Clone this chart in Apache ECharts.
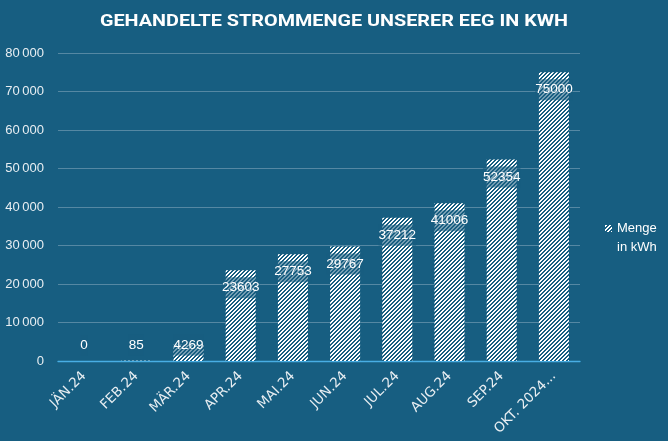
<!DOCTYPE html>
<html>
<head>
<meta charset="utf-8">
<script src="https://cdn.jsdelivr.net/npm/echarts@6/dist/echarts.min.js"></script>
<style>
html,body{margin:0;padding:0;background:#175e81;}
#chart{width:668px;height:441px;}
</style>
</head>
<body>
<div id="chart"></div>
<script>
const categories = ['JÄN.24','FEB.24','MÄR.24','APR.24','MAI.24','JUN.24','JUL.24','AUG.24','SEP.24','OKT. 2024...'];
const values = [0, 85, 4269, 23603, 27753, 29767, 37212, 41006, 52354, 75000];
const seriesName = 'Menge in kWh';
const titleText = 'GEHANDELTE STROMMENGE UNSERER EEG IN KWH';

const BG = '#175e81';
function makePattern(){
  const c = document.createElement('canvas');
  c.width = 4; c.height = 4;
  const ctx = c.getContext('2d');
  ctx.fillStyle = BG; ctx.fillRect(0,0,4,4);
  ctx.fillStyle = '#ffffff';
  for (let x=0;x<4;x++) for (let y=0;y<4;y++) if ((x+y)%4<2) ctx.fillRect(x,y,1,1);
  return c;
}
const pattern = {image: makePattern(), repeat: 'repeat'};

const chart = echarts.init(document.getElementById('chart'), null, {renderer:'canvas'});
const labelBase = {
  show: true, color:'#ffffff', fontSize: 13.5, fontFamily:'Liberation Sans',
  backgroundColor:'rgba(23,94,129,0.6)', height: 21, lineHeight: 21,
  align:'center'
};
const data = values.map((v,i)=>{
  let lab;
  if (i < 2) lab = {position:'top', distance:5};
  else if (i === 2) lab = {position:'insideTop', distance:0, offset:[0,-10]};
  else lab = {position:'insideTop', distance:7};
  return {value:v, label:lab};
});
chart.setOption({
  backgroundColor: BG,
  animation:false,
  graphic:[{
    type:'text', x:334, y:22, scaleX:1.2,
    style:{text:titleText, fill:'#ffffff', font:'bold 16.5px Roboto', textAlign:'center', textVerticalAlign:'middle'}
  }],
  legend:{
    orient:'vertical', left: 600, top: 214, itemWidth:7, itemHeight:26, itemGap:4,
    icon:'path://M0,0h7v7h-7z M3,25.9h0.1v0.1h-0.1z',
    formatter: () => 'Menge\nin kWh',
    textStyle:{color:'#ffffff', fontSize:13, lineHeight:19, fontFamily:'Liberation Sans'}
  },
  grid:{left:58, right:88, top:53, bottom:80},
  xAxis:{
    type:'category', data: categories,
    axisLine:{lineStyle:{color:'#48aee4', width:1.3}},
    axisTick:{show:false},
    axisLabel:{rotate:45, color:'#e8eef2', fontSize:13.5, margin:13, fontFamily:'DejaVu Sans', interval:0}
  },
  yAxis:{
    type:'value', min:0, max:80000, interval:10000,
    axisLine:{show:false}, axisTick:{show:false},
    splitLine:{lineStyle:{color:'rgba(200,215,225,0.35)', width:1}},
    axisLabel:{color:'#e8eef2', fontSize:13, margin:14, fontFamily:'Liberation Sans',
      formatter: v => { const s = String(v); return s.length > 3 ? s.slice(0, s.length-3) + '\u202F' + s.slice(-3) : s; }}
  },
  series:[{
    name: seriesName, type:'bar', barWidth:30,
    itemStyle:{color: pattern},
    label: labelBase,
    data: data
  }]
});
</script>
</body>
</html>
